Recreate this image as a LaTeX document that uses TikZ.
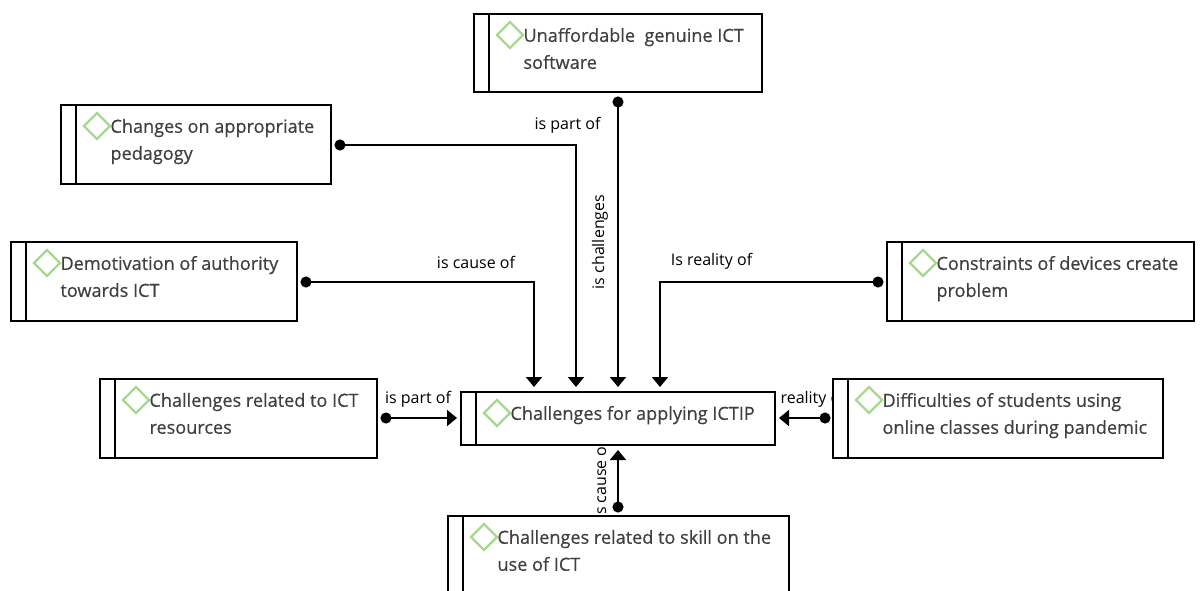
\documentclass[tikz,border=0pt]{standalone}
\usepackage{fontspec}
\setmainfont{Open Sans}
\newfontfamily\boxfont[FakeBold=0.5]{Open Sans}
\usetikzlibrary{arrows.meta,calc}
\definecolor{boxtext}{HTML}{404040}
\definecolor{dia}{HTML}{A6D88F}
\tikzset{
  cbox/.style={draw=black,line width=1.7pt,fill=white,anchor=north west,inner sep=0pt,outer sep=0pt},
  boxlabel/.style={anchor=north west,inner sep=0pt,outer sep=0pt,align=left,text=boxtext,font=\boxfont\fontsize{18.1}{27}\selectfont},
  linklabel/.style={inner sep=0pt,text=black,font=\fontsize{16}{18}\selectfont},
  link/.style={line width=1.7pt,draw=black,shorten <=-5.5pt,{Circle[length=11pt,width=11pt]}-{Triangle[length=10pt,width=16pt]}},
  diam/.style={draw=dia,line width=2.2pt,fill=white}
}
% name, x0, y0, x1, y1, text
\newcommand{\cmapbox}[6]{%
  \node[cbox,minimum width={#4-#2},minimum height={#5-#3}] (#1) at (#2,#3) {};
  \draw[line width=1.7pt] ($(#1.north west)+(15,0)$) -- ($(#1.south west)+(15,0)$);
  \draw[diam] ($(#1.north west)+(23,21)$) -- ++(13,13) -- ++(13,-13) -- ++(-13,-13) -- cycle;
  \node[boxlabel] (#1t) at ($(#1.north west)+(49.5,14)$) {#6};
}
\begin{document}
\begin{tikzpicture}[x=1pt,y=-1pt]
\useasboundingbox (0,0) rectangle (1200,590);
\clip (0,0) rectangle (1200,590);
\fill[white] (0,0) rectangle (1200,590);
% link labels (lie beneath the boxes)
\node[linklabel] (l1) at (567.5,125) {is part of};
\node[linklabel] (l2) at (476,262) {is cause of};
\node[linklabel,rotate=90] (l3) at (600,242) {is challenges};
\node[linklabel] (l4) at (711.5,261) {Is reality of};
\node[linklabel] (l5) at (418,399) {is part of};
\node[linklabel] (l6) at (805,399) {Is reality of};
\node[linklabel,rotate=90] (l7) at (600,480) {is cause of};
% boxes
\cmapbox{a}{474}{14}{762}{92}{Unaffordable\ \ genuine ICT\\software}
\cmapbox{b}{61}{105}{331}{184}{Changes on appropriate\\pedagogy}
\cmapbox{c}{11}{242}{297}{321}{Demotivation of authority\\towards ICT}
\cmapbox{d}{887}{242}{1194}{321}{Constraints of devices create\\problem}
\cmapbox{e}{100}{379}{377}{458}{Challenges related to ICT\\resources}
\cmapbox{f}{833}{379}{1163}{458}{Difficulties of students using\\online classes during pandemic}
\cmapbox{g}{461}{392}{775}{445}{Challenges for applying ICTIP}
\cmapbox{h}{448}{516}{789}{610}{Challenges related to skill on the\\use of ICT}
% connector ends
\coordinate (sa) at (618,102);
\coordinate (sb) at (340,145);
\coordinate (sc) at (306,282);
\coordinate (sd) at (878,282);
\coordinate (se) at (386,418);
\coordinate (sf) at (825,418);
\coordinate (sh) at (618,507);
\coordinate (ta) at (618,387);
\coordinate (tb) at (576,387);
\coordinate (tc) at (534,387);
\coordinate (td) at (660,387);
\coordinate (te) at (457,418);
\coordinate (tf) at (779,418);
\coordinate (th) at (618,450);
\draw[link] (sa) -- (ta);
\draw[link] (sb) -| (tb);
\draw[link] (sc) -| (tc);
\draw[link] (sd) -| (td);
\draw[link] (se) -- (te);
\draw[link] (sf) -- (tf);
\draw[link] (sh) -- (th);
\end{tikzpicture}
\end{document}
